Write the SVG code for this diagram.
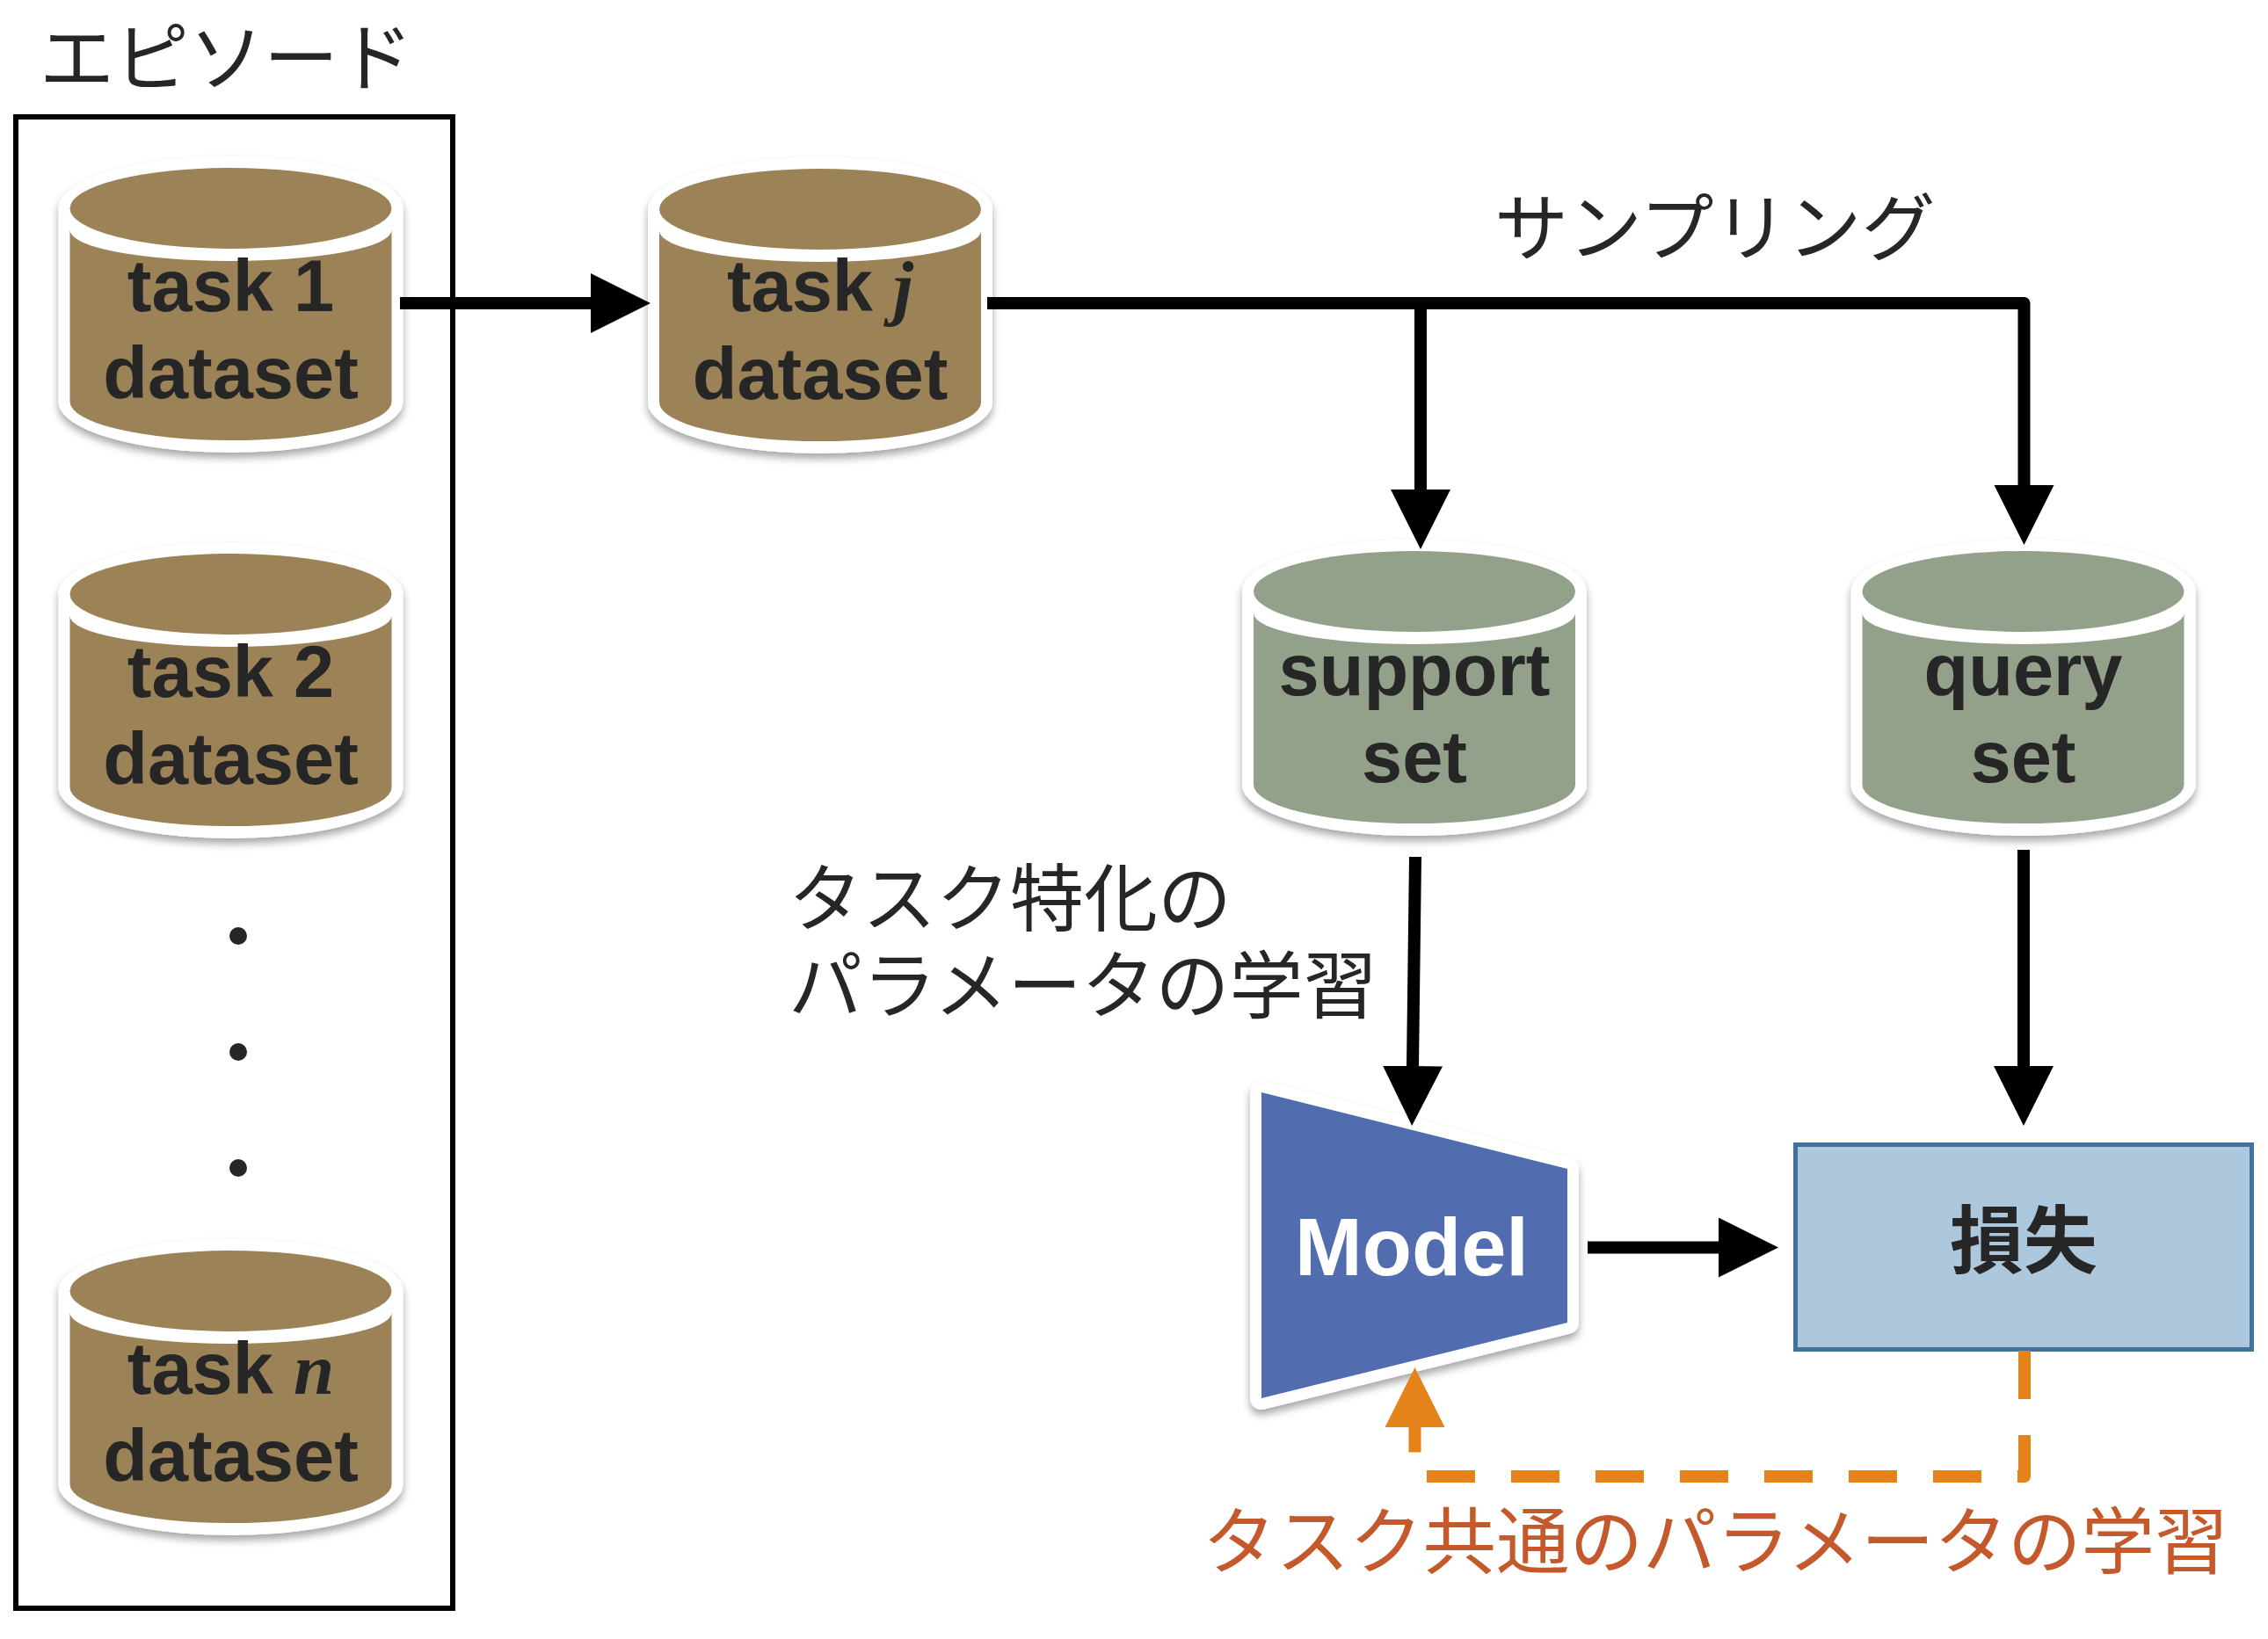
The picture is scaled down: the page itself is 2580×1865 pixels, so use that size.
<svg xmlns="http://www.w3.org/2000/svg" width="2580" height="1865" viewBox="0 0 2580 1865">
<style>
.lbl{font-family:"Liberation Sans",Arial,sans-serif;font-weight:bold;font-size:83px;fill:#262626;text-anchor:middle}
.mi{font-family:"Liberation Serif","Times New Roman",serif;font-style:italic;font-weight:bold}
.jp{font-family:"Noto Sans CJK JP","Noto Sans",sans-serif;font-size:84px;fill:#262626}
.halo{fill:#ffffff;filter:url(#sh)}
.brown{fill:#9C8257}
.green{fill:#94A18A}
.conn{fill:none;stroke:#000;stroke-width:14;stroke-linejoin:round}
</style>
<defs>
<filter id="sh" x="-20%" y="-20%" width="140%" height="150%">
<feDropShadow dx="0" dy="6" stdDeviation="5" flood-color="#000" flood-opacity="0.35"/>
</filter>
<marker id="ah" markerUnits="userSpaceOnUse" markerWidth="70" markerHeight="70" refX="0" refY="34" orient="auto">
<path d="M0,0 L68,34 L0,68 z" fill="#000"/>
</marker>
<marker id="aho" markerUnits="userSpaceOnUse" markerWidth="70" markerHeight="70" refX="0" refY="34" orient="auto">
<path d="M0,0 L68,34 L0,68 z" fill="#E5821A"/>
</marker>
</defs>
<rect width="2580" height="1865" fill="#ffffff"/>

<g id="episode">
<text class="jp" x="45" y="97" style="font-size:85px">エピソード</text>
<rect x="18" y="133" width="497" height="1697" fill="none" stroke="#000" stroke-width="6"/>
</g>

<g id="task1">
<path class="halo" d="M66.5,237 A196,59 0 0 1 458.5,237 L458.5,457 A196,58 0 0 1 66.5,457 Z"/>
<path class="brown" d="M79.5,262 L79.5,457 A183,44 0 0 0 445.5,457 L445.5,262 A183,35 0 0 1 79.5,262 Z"/>
<ellipse class="brown" cx="262.5" cy="237" rx="183" ry="46"/>
<text class="lbl" x="262.5" y="354">task 1</text>
<text class="lbl" x="262.5" y="453">dataset</text>
</g>

<g id="task2">
<path class="halo" d="M66.5,676 A196,59 0 0 1 458.5,676 L458.5,896 A196,58 0 0 1 66.5,896 Z"/>
<path class="brown" d="M79.5,701 L79.5,896 A183,44 0 0 0 445.5,896 L445.5,701 A183,35 0 0 1 79.5,701 Z"/>
<ellipse class="brown" cx="262.5" cy="676" rx="183" ry="46"/>
<text class="lbl" x="262.5" y="793">task 2</text>
<text class="lbl" x="262.5" y="892">dataset</text>
</g>

<g id="dots" fill="#262626">
<circle cx="271" cy="1065" r="10"/>
<circle cx="271" cy="1197" r="10"/>
<circle cx="271" cy="1329" r="10"/>
</g>

<g id="taskn">
<path class="halo" d="M66.5,1469 A196,59 0 0 1 458.5,1469 L458.5,1689 A196,58 0 0 1 66.5,1689 Z"/>
<path class="brown" d="M79.5,1494 L79.5,1689 A183,44 0 0 0 445.5,1689 L445.5,1494 A183,35 0 0 1 79.5,1494 Z"/>
<ellipse class="brown" cx="262.5" cy="1469" rx="183" ry="46"/>
<text class="lbl" x="262.5" y="1586">task <tspan class="mi">n</tspan></text>
<text class="lbl" x="262.5" y="1685">dataset</text>
</g>

<g id="taskj">
<path class="halo" d="M737,238 A196,59 0 0 1 1129,238 L1129,458 A196,58 0 0 1 737,458 Z"/>
<path class="brown" d="M750,263 L750,458 A183,44 0 0 0 1116,458 L1116,263 A183,35 0 0 1 750,263 Z"/>
<ellipse class="brown" cx="933" cy="238" rx="183" ry="46"/>
<text class="lbl" x="933" y="354">task <tspan class="mi">j</tspan></text>
<text class="lbl" x="933" y="454">dataset</text>
</g>

<g id="support">
<path class="halo" d="M1413,673 A196,59 0 0 1 1805,673 L1805,893 A196,58 0 0 1 1413,893 Z"/>
<path class="green" d="M1426,698 L1426,893 A183,44 0 0 0 1792,893 L1792,698 A183,35 0 0 1 1426,698 Z"/>
<ellipse class="green" cx="1609" cy="673" rx="183" ry="46"/>
<text class="lbl" x="1609" y="791">support</text>
<text class="lbl" x="1609" y="890">set</text>
</g>

<g id="query">
<path class="halo" d="M2105.5,673 A196,59 0 0 1 2497.5,673 L2497.5,893 A196,58 0 0 1 2105.5,893 Z"/>
<path class="green" d="M2118.5,698 L2118.5,893 A183,44 0 0 0 2484.5,893 L2484.5,698 A183,35 0 0 1 2118.5,698 Z"/>
<ellipse class="green" cx="2301.5" cy="673" rx="183" ry="46"/>
<text class="lbl" x="2301.5" y="791">query</text>
<text class="lbl" x="2301.5" y="890">set</text>
</g>

<g id="model">
<polygon points="1435,1243 1783,1330 1783,1505 1435,1591" fill="#516DB0" stroke="#ffffff" stroke-width="26" stroke-linejoin="round" paint-order="stroke" filter="url(#sh)"/>
<text x="1606" y="1451" font-family="Liberation Sans, Arial, sans-serif" font-weight="bold" font-size="92" fill="#ffffff" text-anchor="middle">Model</text>
</g>

<g id="loss">
<rect x="2042.5" y="1302.5" width="519" height="233" fill="#ADC7DC" stroke="#41719C" stroke-width="5"/>
<text x="2302" y="1442" font-family="Noto Sans CJK JP, sans-serif" font-weight="bold" font-size="84" fill="#262626" text-anchor="middle">損失</text>
</g>

<g id="labels">
<text class="jp" x="1700" y="290">サンプリング</text>
<text class="jp" x="897" y="1053">タスク特化の<tspan x="897" dy="99">パラメータの学習</tspan></text>
<text class="jp" x="1368" y="1784" style="fill:#C4592B;font-size:83.5px">タスク共通のパラメータの学習</text>
</g>

<g id="connectors">
<path class="conn" d="M455,345 H672" marker-end="url(#ah)"/>
<path class="conn" d="M1123,345 H2302.5 V552" marker-end="url(#ah)"/>
<path class="conn" d="M1616,345 V557" marker-end="url(#ah)"/>
<path class="conn" d="M1610,975 L1607,1213" marker-end="url(#ah)"/>
<path class="conn" d="M2302,967 V1213" marker-end="url(#ah)"/>
<path class="conn" d="M1806,1419.5 H1955" marker-end="url(#ah)"/>
<path d="M2303,1537 V1680 H1609.5 V1624" fill="none" stroke="#E5821A" stroke-width="14" stroke-dasharray="55 41" stroke-linejoin="round" marker-end="url(#aho)"/>
</g>
</svg>
